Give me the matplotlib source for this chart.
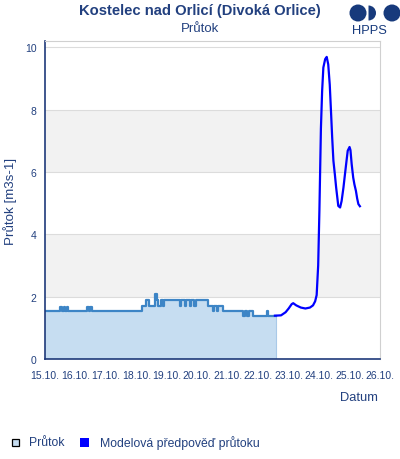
import numpy as np
import matplotlib
matplotlib.use("Agg")
import matplotlib.pyplot as plt
from matplotlib.patches import Circle, Rectangle, Wedge

plt.rcParams["font.family"] = ["Liberation Sans", "DejaVu Sans"]

TITLE = "Kostelec nad Orlicí (Divoká Orlice)"
SUBTITLE = "Průtok"
Y_LABEL = "Průtok [m3s-1]"
X_LABEL = "Datum"
LEGEND_LABELS = ["Průtok", "Modelová předpověď průtoku"]

# observed flow, step breakpoints (day of October, value)
obs_days = [15.0, 15.49, 15.56, 15.62, 15.66, 15.71, 15.75, 16.39, 16.45, 16.49, 16.53,
            18.18, 18.32, 18.43, 18.61, 18.67, 18.72, 18.80, 18.88, 18.91, 19.43,
            19.47, 19.60, 19.63, 19.75, 19.80, 19.90, 19.95, 20.36, 20.50, 20.56,
            20.64, 20.67, 20.86, 21.51, 21.57, 21.62, 21.71, 21.84, 22.28, 22.31, 22.60]
obs_vals = [1.55, 1.68, 1.55, 1.68, 1.55, 1.68, 1.55, 1.68, 1.55, 1.68, 1.55,
            1.71, 1.88, 1.71, 2.10, 1.88, 1.71, 1.88, 1.71, 1.88, 1.71,
            1.88, 1.71, 1.88, 1.71, 1.88, 1.71, 1.88, 1.71, 1.55, 1.71,
            1.55, 1.71, 1.55, 1.39, 1.55, 1.39, 1.55, 1.39, 1.55, 1.39, 1.39]

# model forecast
fc_days = [22.55, 22.75, 22.90, 23.00, 23.10, 23.15, 23.25, 23.40, 23.55, 23.70, 23.80,
           23.87, 23.92, 23.97, 24.01, 24.06, 24.10, 24.14, 24.20, 24.25, 24.30, 24.35,
           24.39, 24.43, 24.47, 24.52, 24.56, 24.63, 24.69, 24.74, 24.80, 24.85, 24.90,
           24.94, 25.00, 25.03, 25.07, 25.12, 25.16, 25.21, 25.25, 25.29, 25.34]
fc_vals = [1.39, 1.40, 1.50, 1.62, 1.76, 1.79, 1.72, 1.65, 1.62, 1.65, 1.72,
           1.85, 2.05, 3.00, 4.75, 7.40, 8.60, 9.35, 9.62, 9.69, 9.45, 8.80,
           7.96, 7.10, 6.36, 5.90, 5.50, 4.91, 4.86, 5.07, 5.50, 5.93, 6.35,
           6.68, 6.80, 6.70, 6.25, 5.82, 5.60, 5.39, 5.15, 4.97, 4.90]

x_ticks = list(range(15, 27))
x_tick_labels = [f"{d}.10." for d in x_ticks]
y_ticks = [0, 2, 4, 6, 8, 10]

NAVY = "#22407f"
OBS_LINE = "#3d85c6"
OBS_FILL = "#c6ddf1"
FC_LINE = "#0000ff"

W, H = 400, 460
fig = plt.figure(figsize=(W / 100, H / 100), dpi=100)
ax = fig.add_axes([45 / W, (H - 360) / H, 335 / W, 318 / H])

ax.set_xlim(15, 26)
ax.set_ylim(0, 10.2)

# alternating bands
for lo in (2, 6):
    ax.axhspan(lo, lo + 2, color="#f2f2f2", zorder=0, lw=0)
for y in y_ticks[1:]:
    ax.axhline(y, color="#dcdcdc", lw=0.8, zorder=0.5)

ax.fill_between(obs_days, obs_vals, step="post", color=OBS_FILL, lw=0, zorder=1)
ax.vlines(obs_days[-1], 0, obs_vals[-1], color="#a9c9e8", lw=0.8, zorder=1.1)
ax.step(obs_days, obs_vals, where="post", color=OBS_LINE, lw=1.6, zorder=2)
ax.plot(fc_days, fc_vals, color=FC_LINE, lw=1.6, zorder=3)

ax.set_xticks(x_ticks)
ax.set_xticklabels(x_tick_labels)
ax.set_yticks(y_ticks)
ax.tick_params(axis="both", length=0, colors=NAVY, labelsize=7.5)
ax.tick_params(axis="x", pad=8)
ax.tick_params(axis="y", pad=6)

for side in ("top", "right"):
    ax.spines[side].set_color("#d0d0d0")
    ax.spines[side].set_linewidth(0.8)
for side in ("left", "bottom"):
    ax.spines[side].set_color("#1f3a7a")
    ax.spines[side].set_linewidth(1.2)

ax.set_ylabel(Y_LABEL, color=NAVY, fontsize=9.6, labelpad=6)

# overlay in pixel coordinates for titles, logo and legend
ov = fig.add_axes([0, 0, 1, 1], zorder=5)
ov.set_xlim(0, W)
ov.set_ylim(H, 0)
ov.axis("off")

ov.text(200, 11, TITLE, ha="center", va="center", fontsize=10.6, fontweight="bold", color=NAVY)
ov.text(200, 29, SUBTITLE, ha="center", va="center", fontsize=9.5, color=NAVY)
ov.text(378, 398, X_LABEL, ha="right", va="center", fontsize=9.3, color=NAVY)

# HPPS logo
LOGO = "#173a7c"
ov.add_patch(Circle((358, 14), 8.5, color=LOGO, lw=0))
ov.add_patch(Wedge((368.5, 14), 7.5, -90, 90, color=LOGO, lw=0))
ov.add_patch(Circle((392, 14), 8.5, color=LOGO, lw=0))
ov.text(369, 31, "HPPS", ha="center", va="center", fontsize=9.3, color=LOGO)

# legend
ov.add_patch(Rectangle((11.5, 439.5), 7, 7, facecolor=OBS_FILL, edgecolor="black", lw=0.9))
ov.text(29, 443, LEGEND_LABELS[0], ha="left", va="center", fontsize=8.8, color=NAVY)
ov.add_patch(Rectangle((80, 439), 9, 9, facecolor=FC_LINE, edgecolor="none"))
ov.text(100, 443, LEGEND_LABELS[1], ha="left", va="center", fontsize=8.8, color=NAVY)

fig.savefig("out.png", dpi=100)
